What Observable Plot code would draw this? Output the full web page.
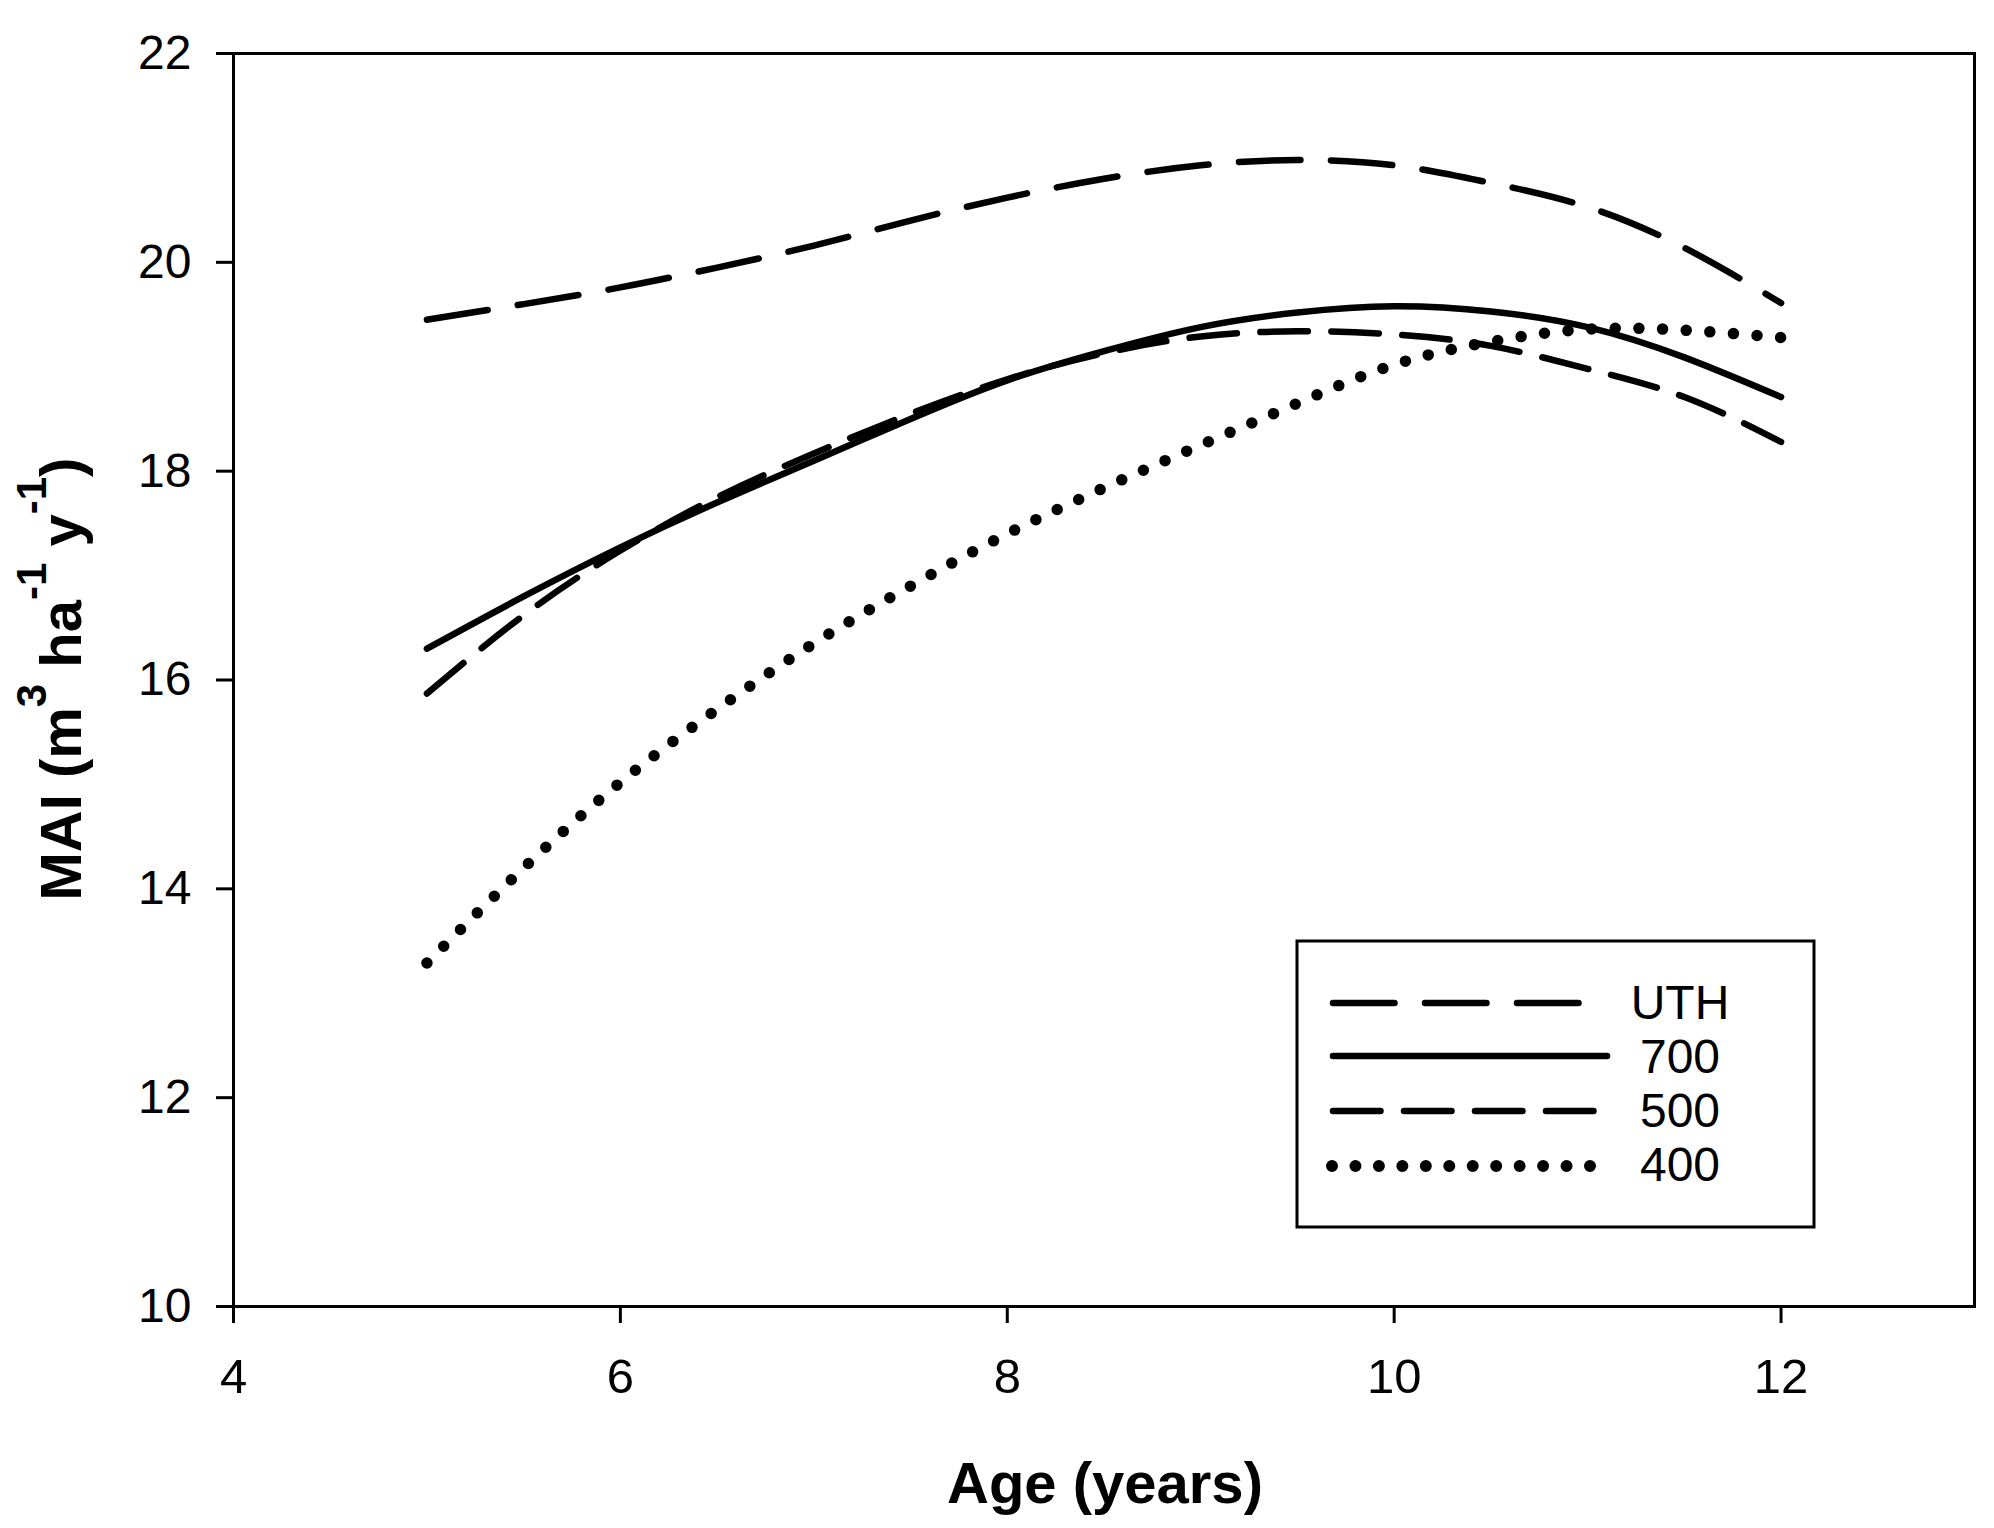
<!DOCTYPE html>
<html>
<head>
<meta charset="utf-8">
<script src="https://cdn.jsdelivr.net/npm/d3@7"></script>
<script src="https://cdn.jsdelivr.net/npm/@observablehq/plot@0.6"></script>
<style>
  html, body { margin: 0; padding: 0; background: white; }
  svg { display: block; }
</style>
</head>
<body>
<div id="chart"></div>
<script>
// ---- data ----
const ages = [5, 5.5, 6, 6.5, 7, 7.5, 8, 8.5, 9, 9.5, 10, 10.5, 11, 11.5, 12];
const maiUTH = [19.45, 19.60, 19.76, 19.95, 20.16, 20.40, 20.62, 20.80, 20.93, 20.98, 20.93, 20.76, 20.53, 20.14, 19.61];
const mai700 = [16.30, 16.80, 17.27, 17.70, 18.10, 18.50, 18.87, 19.15, 19.38, 19.52, 19.58, 19.53, 19.38, 19.09, 18.71];
const mai500 = [15.87, 16.62, 17.24, 17.75, 18.17, 18.55, 18.88, 19.13, 19.29, 19.34, 19.31, 19.20, 18.98, 18.71, 18.28];
const mai400 = [13.29, 14.20, 15.02, 15.72, 16.35, 16.90, 17.40, 17.84, 18.25, 18.65, 19.02, 19.24, 19.36, 19.35, 19.28];
const seriesNames = ["UTH", "700", "500", "400"];
const xTicks = [4, 6, 8, 10, 12];
const yTicks = [10, 12, 14, 16, 18, 20, 22];
const xDomain = [4, 13];
const yDomain = [10, 22];

// ---- styles ----
const LW = 6.5;
const DOT_GAP = 23.6;
const DOT_W = 11.5;
const styles = {
  "UTH": {dash: "61.5,30.5", width: LW},
  "700": {dash: null, width: LW},
  "500": {dash: "47.5,23.5", width: LW},
  "400": {dash: "0," + DOT_GAP, width: DOT_W}
};

const seriesValues = [maiUTH, mai700, mai500, mai400];
const rows = [];
seriesNames.forEach((s, k) => ages.forEach((a, i) => rows.push({age: a, mai: seriesValues[k][i], series: s})));

const W = 1994, H = 1528;
const lineMarks = seriesNames.map(s => Plot.line(rows.filter(d => d.series === s), {
  x: "age", y: "mai", stroke: "black",
  strokeWidth: styles[s].width,
  strokeDasharray: styles[s].dash || undefined,
  strokeLinecap: "round", strokeLinejoin: "round",
  curve: "natural"
}));

const svg = Plot.plot({
  width: W, height: H,
  marginLeft: 233, marginRight: 20, marginTop: 53, marginBottom: 222,
  style: {fontFamily: "'Liberation Sans', Arial, sans-serif", fontSize: "48px", background: "white", color: "black", overflow: "visible"},
  x: {domain: xDomain},
  y: {domain: yDomain},
  marks: [
    Plot.axisX({ticks: xTicks, tickSize: 17, tickPadding: 35, strokeWidth: 3, label: null, fontSize: 49, tickFormat: d3.format("d")}),
    Plot.axisY({ticks: yTicks, tickSize: 17, tickPadding: 25, strokeWidth: 3, label: null, fontSize: 48, tickFormat: d3.format("d")}),
    ...lineMarks,
    Plot.frame({stroke: "black", strokeWidth: 3})
  ]
});
document.getElementById("chart").appendChild(svg);

const root = d3.select(svg);

// make the dotted line end on a dot (spacing adjusted to the path length)
try {
  svg.querySelectorAll("g").forEach(g => {
    if (parseFloat(g.getAttribute("stroke-width")) !== DOT_W) return;
    const p = g.querySelector("path");
    if (!p) return;
    const L = p.getTotalLength();
    const n = Math.max(1, Math.round(L / DOT_GAP));
    const gap = ((L - 0.5) / n).toFixed(4);
    g.setAttribute("stroke-dasharray", `0,${gap}`);
  });
} catch (e) {}

// ---- y-axis title with superscripts ----
const yt = root.append("text")
  .attr("transform", "translate(81,679) rotate(-90)")
  .attr("text-anchor", "middle")
  .attr("font-family", "'Liberation Sans', Arial, sans-serif")
  .attr("font-weight", "bold")
  .attr("font-size", 58)
  .attr("fill", "black")
  .style("white-space", "pre");
const SUP = 42, SHIFT = 35;
yt.append("tspan").text("MAI (m");
yt.append("tspan").attr("font-size", SUP).attr("dy", -SHIFT).text("3");
yt.append("tspan").attr("dy", SHIFT).text(" ha");
yt.append("tspan").attr("font-size", SUP).attr("dy", -SHIFT).text("-1");
yt.append("tspan").attr("dy", SHIFT).text(" y");
yt.append("tspan").attr("font-size", SUP).attr("dy", -SHIFT).text("-1");
yt.append("tspan").attr("dy", SHIFT).text(")");

// ---- x-axis title ----
root.append("text")
  .attr("x", 1105).attr("y", 1503)
  .attr("text-anchor", "middle")
  .attr("font-family", "'Liberation Sans', Arial, sans-serif")
  .attr("font-weight", "bold")
  .attr("font-size", 58)
  .attr("fill", "black")
  .text("Age (years)");

// ---- legend box ----
const lg = root.append("g");
lg.append("rect").attr("x", 1297).attr("y", 941).attr("width", 517).attr("height", 286)
  .attr("fill", "white").attr("stroke", "black").attr("stroke-width", 3);
const rowY = [1003, 1056, 1111, 1166];
const baseY = [1019, 1073, 1127, 1181];
const sampleEnd = {"UTH": 1579, "700": 1607, "500": 1594, "400": 1590};
seriesNames.forEach((s, i) => {
  const x0 = s === "400" ? 1332 : 1333;
  const ln = lg.append("line")
    .attr("x1", x0).attr("x2", sampleEnd[s])
    .attr("y1", rowY[i]).attr("y2", rowY[i])
    .attr("stroke", "black").attr("stroke-width", s === "400" ? 12 : styles[s].width)
    .attr("stroke-linecap", "round");
  if (s === "400") ln.attr("stroke-dasharray", `0,${(1590 - 1332) / 11}`);
  else if (styles[s].dash) ln.attr("stroke-dasharray", styles[s].dash);
  lg.append("text").attr("x", 1680).attr("y", baseY[i])
    .attr("font-family", "'Liberation Sans', Arial, sans-serif")
    .attr("font-size", 48).attr("fill", "black")
    .text(s);
});
</script>
</body>
</html>
